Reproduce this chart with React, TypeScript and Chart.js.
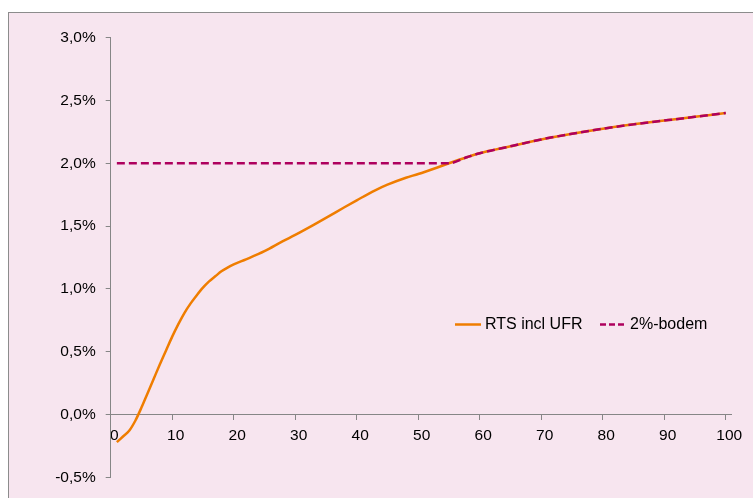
import React, { useEffect, useRef } from "react";
import { Chart, registerables } from "chart.js";

Chart.register(...registerables);

// Looptijd (jaren)
const MATURITIES = [
  1, 2, 3, 4, 5, 6, 7, 8, 9, 10, 11, 12, 13, 14, 15, 16, 17, 18, 19, 20,
  22, 25, 28, 30, 33, 35, 38, 40, 43, 45, 48, 50, 53, 55, 58, 60, 65, 70, 75,
  80, 85, 90, 95, 100,
];

// RTS incl UFR (%)
const RTS_INCL_UFR = [
  -0.22, -0.175, -0.13, -0.05, 0.055, 0.17, 0.285, 0.4, 0.51, 0.62, 0.72, 0.81,
  0.885, 0.95, 1.01, 1.06, 1.1, 1.14, 1.17, 1.195,
  1.235, 1.3, 1.38, 1.43, 1.51, 1.565, 1.65, 1.705, 1.785, 1.83, 1.885, 1.915,
  1.965, 2.0, 2.05, 2.08, 2.135, 2.19, 2.235, 2.275, 2.31, 2.34, 2.37, 2.4,
];

// 2%-bodem (%)
const BODEM_2PCT = [
  2.0, 2.0, 2.0, 2.0, 2.0, 2.0, 2.0, 2.0, 2.0, 2.0, 2.0, 2.0, 2.0, 2.0, 2.0,
  2.0, 2.0, 2.0, 2.0, 2.0,
  2.0, 2.0, 2.0, 2.0, 2.0, 2.0, 2.0, 2.0, 2.0, 2.0, 2.0, 2.0,
  2.0, 2.0, 2.05, 2.08, 2.135, 2.19, 2.235, 2.275, 2.31, 2.34, 2.37, 2.4,
];

const SERIES_LABELS = ["RTS incl UFR", "2%-bodem"];
const X_TICKS = [0, 10, 20, 30, 40, 50, 60, 70, 80, 90, 100];
const Y_TICKS = [-0.5, 0, 0.5, 1, 1.5, 2, 2.5, 3];

const FONT = "'Liberation Sans', Arial, sans-serif";
const ORANGE = "#EF7D00";
const MAGENTA = "#AE005E";
const AXIS_GREY = "#868686";
const BG = "#F7E5EF";

export default function App() {
  const ref = useRef<HTMLCanvasElement | null>(null);

  useEffect(() => {
    if (!ref.current) return;

    const legendPlugin = {
      id: "insideLegend",
      afterDraw(chart: any) {
        const ctx = chart.ctx;
        const y = 311.5;
        const layout = [
          { x0: 446, x1: 472, tx: 476, dash: [] as number[] },
          { x0: 591, x1: 615, tx: 621, dash: [6, 3] },
        ];
        ctx.save();
        chart.data.datasets.forEach((ds: any, i: number) => {
          const l = layout[i];
          ctx.beginPath();
          ctx.setLineDash(l.dash);
          ctx.strokeStyle = ds.borderColor;
          ctx.lineWidth = 2.5;
          ctx.moveTo(l.x0, y);
          ctx.lineTo(l.x1, y);
          ctx.stroke();
          ctx.setLineDash([]);
          ctx.fillStyle = "#000";
          ctx.font = `16px ${FONT}`;
          ctx.textBaseline = "middle";
          ctx.textAlign = "left";
          ctx.fillText(ds.label, l.tx, y);
        });
        ctx.restore();
      },
    };

    const chart = new Chart(ref.current, {
      type: "line",
      data: {
        datasets: [
          {
            label: SERIES_LABELS[0],
            data: MATURITIES.map((m, i) => ({ x: m, y: RTS_INCL_UFR[i] })),
            borderColor: ORANGE,
            borderWidth: 2.5,
            pointRadius: 0,
            cubicInterpolationMode: "monotone",
            order: 2,
          },
          {
            label: SERIES_LABELS[1],
            data: MATURITIES.map((m, i) => ({ x: m, y: BODEM_2PCT[i] })),
            borderColor: MAGENTA,
            borderWidth: 2.5,
            borderDash: [8, 4],
            pointRadius: 0,
            cubicInterpolationMode: "monotone",
            order: 1,
          },
        ],
      },
      options: {
        animation: false,
        responsive: false,
        layout: { padding: { top: 24.7, bottom: 20.7, left: 0, right: 21.1 } },
        plugins: {
          legend: { display: false },
          tooltip: { enabled: false },
        },
        scales: {
          x: {
            type: "linear",
            min: 0,
            max: 101,
            position: { y: 0 } as any,
            afterFit: (scale: any) => {
              scale.height = 0;
            },
            afterBuildTicks: (axis: any) => {
              axis.ticks = X_TICKS.map((v) => ({ value: v }));
            },
            grid: {
              display: true,
              drawOnChartArea: false,
              drawTicks: true,
              tickLength: 5,
              color: AXIS_GREY,
            },
            border: { display: true, color: AXIS_GREY, width: 1 },
            ticks: {
              font: { family: FONT, size: 15.5 },
              color: "#000",
              padding: 7,
              labelOffset: 3.5,
              maxRotation: 0,
              autoSkip: false,
              callback: (v: any) => String(v),
            },
          },
          y: {
            type: "linear",
            min: -0.5,
            max: 3.0,
            afterFit: (scale: any) => {
              scale.width = 101.7;
            },
            afterBuildTicks: (axis: any) => {
              axis.ticks = Y_TICKS.map((v) => ({ value: v }));
            },
            grid: {
              display: true,
              drawOnChartArea: false,
              drawTicks: true,
              tickLength: 5,
              color: AXIS_GREY,
            },
            border: { display: true, color: AXIS_GREY, width: 1 },
            ticks: {
              font: { family: FONT, size: 15.5 },
              color: "#000",
              padding: 10,
              autoSkip: false,
              callback: (v: any) => Number(v).toFixed(1).replace(".", ",") + "%",
            },
          },
        },
      },
      plugins: [legendPlugin],
    });

    return () => chart.destroy();
  }, []);

  return (
    <div
      style={{
        position: "fixed",
        left: 0,
        top: 0,
        width: 753,
        height: 498,
        overflow: "hidden",
        background: "#fff",
      }}
    >
      <div
        style={{
          position: "absolute",
          left: 8,
          top: 12,
          width: 800,
          height: 540,
          border: `1px solid #8c8c8c`,
          background: BG,
        }}
      >
        <canvas
          ref={ref}
          width={744}
          height={485}
          style={{ display: "block", width: 744, height: 485 }}
        />
      </div>
    </div>
  );
}
